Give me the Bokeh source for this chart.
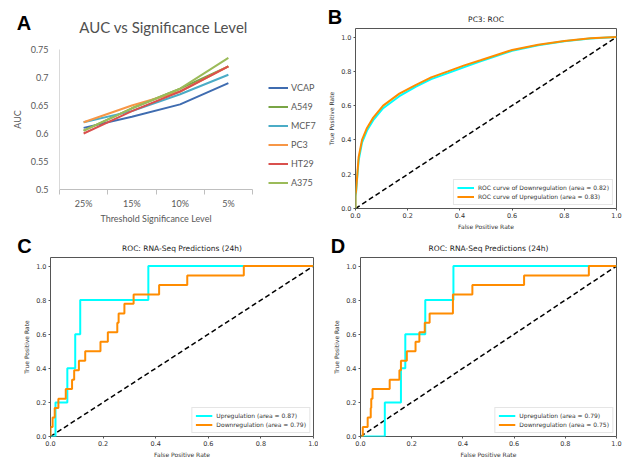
from bokeh.plotting import figure
from bokeh.models import (Range1d, LinearAxis, FixedTicker, Label, Legend, LegendItem,
                          CustomJSTickFormatter, PrintfTickFormatter)
from bokeh.layouts import row, column
from bokeh.embed import file_html
from bokeh.resources import INLINE

# ---------------- Panel A data ----------------
thresholds = ["25%", "15%", "10%", "5%"]
cell_lines = ["VCAP", "A549", "MCF7", "PC3", "HT29", "A375"]
auc_vcap = [0.61, 0.63, 0.652, 0.69]
auc_a549 = [0.605, 0.645, 0.68, 0.72]
auc_mcf7 = [0.62, 0.64, 0.67, 0.705]
auc_pc3 = [0.62, 0.65, 0.675, 0.72]
auc_ht29 = [0.60, 0.64, 0.675, 0.72]
auc_a375 = [0.605, 0.645, 0.68, 0.735]
auc_values = [auc_vcap, auc_a549, auc_mcf7, auc_pc3, auc_ht29, auc_a375]
line_colors = ["#3F6CB0", "#79A545", "#4BACC6", "#F79646", "#D9504D", "#9BBB59"]
auc_ticks = [0.5, 0.55, 0.6, 0.65, 0.7, 0.75]

# ---------------- Panel B data (PC3 ROC) ----------------
fpr_b = [0, 0, 0.002, 0.006, 0.012, 0.025, 0.044, 0.068, 0.106, 0.168, 0.23, 0.29,
         0.354, 0.417, 0.479, 0.6, 0.7, 0.8, 0.9, 1.0]
tpr_b_down = [0, 0.07, 0.09, 0.17, 0.28, 0.385, 0.455, 0.515, 0.585, 0.655, 0.71, 0.755,
              0.79, 0.825, 0.858, 0.92, 0.952, 0.975, 0.992, 1.0]
tpr_b_up = [0, 0.08, 0.1, 0.18, 0.3, 0.4, 0.47, 0.53, 0.6, 0.67, 0.72, 0.765,
            0.80, 0.835, 0.865, 0.925, 0.955, 0.977, 0.993, 1.0]

# ---------------- Panel C data ----------------
fpr_c_up = [0, 0.019, 0.064, 0.094, 0.113, 0.372, 1.0]
tpr_c_up = [0, 0.2, 0.4, 0.6, 0.8, 1.0, 1.0]
fpr_c_down = [0, 0, 0.008, 0.016, 0.03, 0.058, 0.082, 0.09, 0.108, 0.132, 0.19, 0.218,
              0.254, 0.259, 0.281, 0.316, 0.413, 0.52, 0.735, 1.0]
tpr_c_down = [0, 0.056, 0.111, 0.167, 0.222, 0.278, 0.333, 0.389, 0.444, 0.5, 0.556, 0.611,
              0.667, 0.722, 0.778, 0.833, 0.889, 0.944, 1.0, 1.0]

# ---------------- Panel D data ----------------
fpr_d_up = [0, 0.095, 0.158, 0.175, 0.253, 0.363, 1.0]
tpr_d_up = [0, 0.2, 0.4, 0.6, 0.8, 1.0, 1.0]
fpr_d_down = [0, 0.009, 0.028, 0.04, 0.042, 0.047, 0.114, 0.152, 0.158, 0.181, 0.215, 0.23,
              0.251, 0.27, 0.361, 0.437, 0.639, 0.892, 1.0]
tpr_d_down = [0, 0.056, 0.111, 0.167, 0.222, 0.278, 0.333, 0.389, 0.444, 0.5, 0.556, 0.611,
              0.667, 0.722, 0.833, 0.889, 0.944, 1.0, 1.0]

chance_line = [0.0, 1.0]
rate_ticks = [0.0, 0.2, 0.4, 0.6, 0.8, 1.0]

CYAN = "#00FFFF"
ORANGE = "#FF8C00"
MPL_FONT = "DejaVu Sans"
XL_FONT = "Lato"
LETTER_FONT = "Liberation Sans"


def no_align(p):
    if "frame_align" in p.properties():
        p.frame_align = False


def header(width, height):
    h = figure(width=width, height=height, x_range=Range1d(0, width), y_range=Range1d(height, 0),
               x_axis_location=None, y_axis_location=None, toolbar_location=None,
               output_backend="svg", min_border_left=0, min_border_right=0,
               min_border_top=0, min_border_bottom=0)
    h.outline_line_color = None
    for g in h.grid:
        g.visible = False
    no_align(h)
    return h


def letter(h, text, x, y):
    h.add_layout(Label(x=x, y=y, text=text, text_align="center", text_baseline="middle",
                       text_font=LETTER_FONT, text_font_size="20px", text_font_style="bold",
                       text_color="black"))


# ================= Panel A =================
A_W, A_LEFT, A_AXIS_END = 316, 59, 252
x_pos = list(range(len(thresholds)))
x_bounds = [i - 0.5 for i in range(len(thresholds) + 1)]
px_per_cat = (A_AXIS_END - A_LEFT) / len(thresholds)
x_end = x_bounds[0] + (A_W - A_LEFT) / px_per_cat   # frame extends under the legend

ha = header(A_W, 40)
ha.add_layout(Label(x=163, y=26.5, text="AUC vs Significance Level", text_align="center",
                    text_baseline="middle", text_font=XL_FONT, text_font_size="15px",
                    text_color="#505050"))
letter(ha, "A", 23.5, 22.5)

pa = figure(width=A_W, height=172, x_range=Range1d(x_bounds[0], x_end),
            y_range=Range1d(0.5, 0.75), x_axis_location=None, y_axis_location=None,
            output_backend="svg", toolbar_location=None,
            min_border_left=A_LEFT, min_border_right=0, min_border_top=9, min_border_bottom=23)
no_align(pa)
pa.outline_line_color = None
for g in pa.grid:
    g.visible = False

xa_a = LinearAxis(ticker=FixedTicker(ticks=x_pos, minor_ticks=x_bounds),
                  bounds=(x_bounds[0], x_bounds[-1]),
                  major_label_overrides={i: t for i, t in zip(x_pos, thresholds)},
                  axis_line_color="#BFBFBF", major_tick_line_color=None,
                  minor_tick_line_color="#BFBFBF", minor_tick_out=5, minor_tick_in=0,
                  major_tick_out=5, major_tick_in=0,
                  major_label_standoff=3, major_label_text_font=XL_FONT,
                  major_label_text_font_size="9px", major_label_text_color="#595959")
pa.add_layout(xa_a, "below")
ya = LinearAxis(ticker=FixedTicker(ticks=auc_ticks, minor_ticks=[]),
                formatter=CustomJSTickFormatter(code="return String(Math.round(tick*100)/100);"),
                axis_line_color="#D9D9D9", major_tick_line_color=None, minor_tick_line_color=None,
                major_tick_out=0, major_tick_in=0,
                major_label_standoff=11, major_label_text_font=XL_FONT,
                major_label_text_font_size="9px", major_label_text_color="#595959",
                axis_label="AUC", axis_label_text_font=XL_FONT, axis_label_text_font_size="9px",
                axis_label_text_font_style="normal", axis_label_text_color="#595959",
                axis_label_standoff=5)
pa.add_layout(ya, "left")

rends = []
for name, vals, col in zip(cell_lines, auc_values, line_colors):
    rends.append(pa.line(x=x_pos, y=vals, line_color=col, line_width=2))

leg_a = Legend(items=[LegendItem(label=n, renderers=[r]) for n, r in zip(cell_lines, rends)],
               location=(209, -3), spacing=0, padding=0, margin=0, glyph_width=20,
               glyph_height=19, label_height=19, label_standoff=3, label_text_font=XL_FONT,
               label_text_font_size="9px", label_text_color="#595959",
               border_line_color=None, background_fill_alpha=0)
pa.add_layout(leg_a)

fa = header(A_W, 20)
fa.add_layout(Label(x=(A_LEFT + A_AXIS_END) / 2, y=6, text="Threshold Significance Level",
                    text_align="center", text_baseline="middle", text_font=XL_FONT,
                    text_font_size="9px", text_color="#595959"))


# ================= ROC panels =================
def style_axis(ax, label):
    ax.ticker = FixedTicker(ticks=rate_ticks, minor_ticks=[])
    ax.formatter = PrintfTickFormatter(format="%.1f")
    ax.axis_label = label
    ax.axis_label_text_font = MPL_FONT
    ax.axis_label_text_font_size = "6px"
    ax.axis_label_text_font_style = "normal"
    ax.axis_label_text_color = "#333333"
    ax.axis_label_standoff = 2
    ax.major_label_text_font = MPL_FONT
    ax.major_label_text_font_size = "6.5px"
    ax.major_label_text_color = "#333333"
    ax.major_label_standoff = 2
    ax.major_tick_out = 2
    ax.major_tick_in = 0
    ax.major_tick_line_color = "#555555"
    ax.minor_tick_line_color = None
    ax.axis_line_color = None


def roc_panel(width, height, left, right, bottom):
    p = figure(width=width, height=height, x_range=Range1d(0, 1), y_range=Range1d(0, 1.05),
               x_axis_location=None, y_axis_location=None, output_backend="svg",
               toolbar_location=None, min_border_left=left, min_border_right=right,
               min_border_top=0, min_border_bottom=bottom)
    no_align(p)
    p.outline_line_color = "#555555"
    p.outline_line_width = 1
    for g in p.grid:
        g.visible = False
    xa = LinearAxis()
    style_axis(xa, "False Positive Rate")
    p.add_layout(xa, "below")
    yax = LinearAxis()
    style_axis(yax, "True Positive Rate")
    yax.axis_label_standoff = 3
    p.add_layout(yax, "left")
    return p


def roc_title(h, text, x, y):
    h.add_layout(Label(x=x, y=y, text=text, text_align="center", text_baseline="middle",
                       text_font=MPL_FONT, text_font_size="7.5px", text_color="#222222"))


def roc_legend(items):
    return Legend(items=items, location="bottom_right", margin=3, padding=3, spacing=0,
                  glyph_width=17, glyph_height=9, label_height=9, label_standoff=4,
                  label_text_font=MPL_FONT, label_text_font_size="6px",
                  label_text_color="#333333", border_line_color="#CCCCCC",
                  border_line_width=1, background_fill_alpha=0.8)


# Panel B  (page x 316..622)
hb = header(306, 28)
roc_title(hb, "PC3: ROC", 169.5, 19)
letter(hb, "B", 18.5, 16.5)
pb = roc_panel(306, 204, 39, 6, 20)
pb.line(x=chance_line, y=chance_line, line_color="black", line_width=1.5, line_dash="5 3")
rb1 = pb.line(x=fpr_b, y=tpr_b_down, line_color=CYAN, line_width=2)
rb2 = pb.line(x=fpr_b, y=tpr_b_up, line_color=ORANGE, line_width=2)
pb.add_layout(roc_legend([
    LegendItem(label="ROC curve of Downregulation (area = 0.82)", renderers=[rb1]),
    LegendItem(label="ROC curve of Upregulation (area = 0.83)", renderers=[rb2])]))

# Panel C  (page x 0..318, y 232..460)
hc = header(318, 25)
roc_title(hc, "ROC: RNA-Seq Predictions (24h)", 181.5, 16.3)
letter(hc, "C", 24, 13.6)
pc = roc_panel(318, 203, 50, 5, 21)
pc.line(x=chance_line, y=chance_line, line_color="black", line_width=1.5, line_dash="5 3")
rc1 = pc.step(x=fpr_c_up, y=tpr_c_up, mode="after", line_color=CYAN, line_width=2)
rc2 = pc.step(x=fpr_c_down, y=tpr_c_down, mode="after", line_color=ORANGE, line_width=2)
pc.add_layout(roc_legend([
    LegendItem(label="Upregulation (area = 0.87)", renderers=[rc1]),
    LegendItem(label="Downregulation (area = 0.79)", renderers=[rc2])]))

# Panel D  (page x 318..622)
hd = header(304, 25)
roc_title(hd, "ROC: RNA-Seq Predictions (24h)", 170, 16.3)
letter(hd, "D", 19.5, 13.6)
pd_ = roc_panel(304, 203, 42, 6, 21)
pd_.line(x=chance_line, y=chance_line, line_color="black", line_width=1.5, line_dash="5 3")
rd1 = pd_.step(x=fpr_d_up, y=tpr_d_up, mode="after", line_color=CYAN, line_width=2)
rd2 = pd_.step(x=fpr_d_down, y=tpr_d_down, mode="after", line_color=ORANGE, line_width=2)
pd_.add_layout(roc_legend([
    LegendItem(label="Upregulation (area = 0.79)", renderers=[rd1]),
    LegendItem(label="Downregulation (area = 0.75)", renderers=[rd2])]))

layout = column(row(column(ha, pa, fa), column(hb, pb)),
                row(column(hc, pc), column(hd, pd_)))
open("out.html", "w").write(file_html(layout, INLINE))
